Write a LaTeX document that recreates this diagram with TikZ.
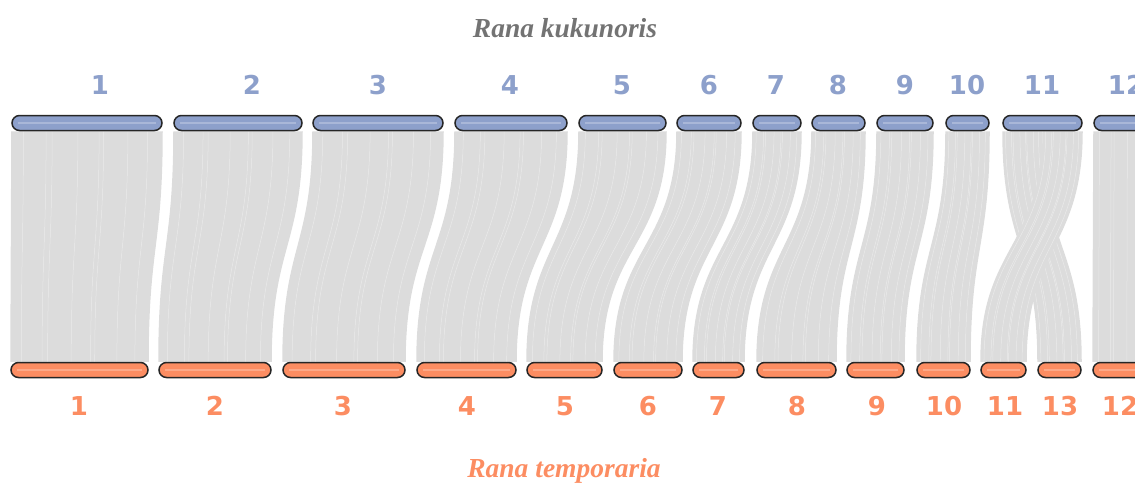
\documentclass[tikz,border=0pt]{standalone}
\usepackage{fontspec}
\setmainfont{Liberation Serif}
\newfontfamily\labfont{DejaVu Sans}
\usetikzlibrary{calc,backgrounds}
\definecolor{tblue}{HTML}{8DA0CB}
\definecolor{torange}{HTML}{FC8D62}
\definecolor{linkgray}{HTML}{DCDCDC}
\definecolor{titlegray}{HTML}{737373}
\tikzset{
  chrbar/.style={draw=black!85, line width=1.5pt, rounded corners=7.5pt, minimum height=15pt, inner sep=0pt},
  tchr/.style={chrbar, fill=tblue},
  bchr/.style={chrbar, fill=torange},
  tlab/.style={font=\labfont\bfseries\fontsize{26}{26}\selectfont, text=tblue},
  blab/.style={font=\labfont\bfseries\fontsize{26}{26}\selectfont, text=torange},
  link/.style={fill=linkgray},
  strand/.style={draw=white, opacity=.4, line width=.5pt},
  species/.style={font=\bfseries\itshape\fontsize{27.5}{27.5}\selectfont, anchor=base}
}
\newcommand{\ribbon}[4]{% top-left, top-right, bottom-left, bottom-right
  \fill[link] (#1) .. controls +(0,116) and +(0,-116) .. (#3) -- (#4)
     .. controls +(0,-116) and +(0,116) .. (#2) -- cycle;
  \foreach \f in {0.08,0.23,0.27,0.44,0.58,0.61,0.77,0.9}{
    \draw[strand] ($(#1)!\f!(#2)$) .. controls +(0,116) and +(0,-116) .. ($(#3)!\f!(#4)$);
  }
}
\newcommand{\pairlink}[2]{\ribbon{#1.south west}{#1.south east}{#2.north west}{#2.north east}}
\newcommand{\shine}[1]{\draw[white, opacity=.25, line width=2.5pt] ($(#1.west)+(7,0)$) -- ($(#1.east)+(-7,0)$);}
\begin{document}
\begin{tikzpicture}[x=1pt,y=-1pt]
\useasboundingbox (0,0) rectangle (1135,482);
\clip (0,0) rectangle (1135,482);
% top chromosomes
\foreach \n/\l/\r in {1/12/162,2/174/302,3/313/443,4/455/567,5/579/666,6/677/741,7/753/801,8/812/865,9/877/933,10/946/989,11/1003/1082,12/1094/1170}{
  \node[tchr, minimum width={(\r-\l)*1pt}] (t\n) at ({(\l+\r)/2},123) {};
  \shine{t\n}
}
% bottom chromosomes
\foreach \n/\l/\r in {1/11/148,2/159/271,3/283/405,4/417/516,5/527/602,6/614/682,7/693/744,8/757/836,9/847/904,10/917/970,11/981/1026,13/1038/1081,12/1093/1170}{
  \node[bchr, minimum width={(\r-\l)*1pt}] (b\n) at ({(\l+\r)/2},370) {};
  \shine{b\n}
}
% links
\begin{pgfonlayer}{background}
  \clip (0,0) rectangle (1135,482);
  \foreach \n in {1,...,10,12}{\pairlink{t\n}{b\n}}
  \coordinate (t11m) at ($(t11.south west)!0.5!(t11.south east)$);
  \ribbon{t11.south west}{t11m}{b13.north west}{b13.north east}
  \ribbon{t11m}{t11.south east}{b11.north west}{b11.north east}
\end{pgfonlayer}
% top labels
\foreach \n/\x in {1/100,2/252,3/378,4/510,5/622,6/709,7/776,8/838,9/905,10/967,11/1042,12/1126}
  \node[tlab] (lt\n) at (\x,85) {\n};
% bottom labels
\foreach \n/\x in {1/79,2/215,3/343,4/467,5/565,6/648,7/718,8/797,9/877,10/944,11/1005,13/1060,12/1120}
  \node[blab] (lb\n) at (\x,406) {\n};
% species names
\node[species, text=titlegray] (sp1) at (565,37) {Rana kukunoris};
\node[species, text=torange] (sp2) at (564,477) {Rana temporaria};
\end{tikzpicture}
\end{document}
